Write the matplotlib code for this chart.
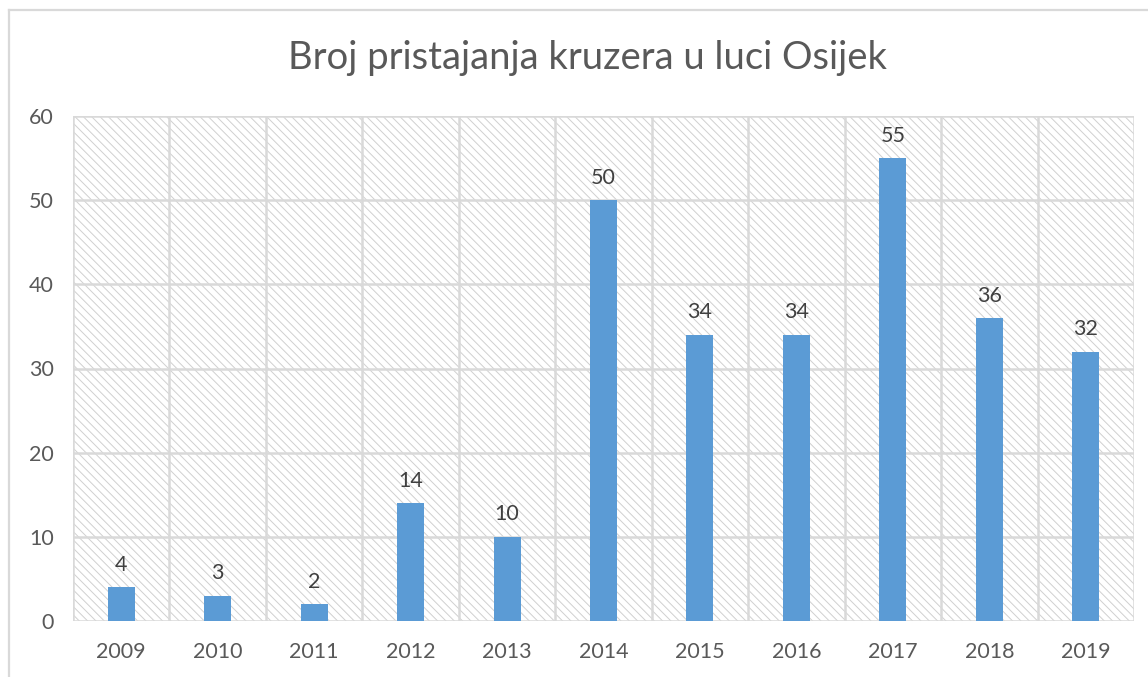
import matplotlib
matplotlib.use("Agg")
import matplotlib.pyplot as plt
from matplotlib.patches import Rectangle
from matplotlib.lines import Line2D

years = ["2009", "2010", "2011", "2012", "2013", "2014", "2015", "2016", "2017", "2018", "2019"]
values = [4, 3, 2, 14, 10, 50, 34, 34, 55, 36, 32]
title = "Broj pristajanja kruzera u luci Osijek"

plt.rcParams['font.family'] = ['Lato', 'DejaVu Sans']
plt.rcParams['hatch.linewidth'] = 0.7

W, H = 1148, 677
fig = plt.figure(figsize=(W / 100, H / 100), dpi=100)
fig.patch.set_facecolor("white")

# outer chart border (top and left visible)
fig.add_artist(Line2D([9 / W, 1.05], [1 - 10 / H, 1 - 10 / H], transform=fig.transFigure,
                      color="#d9d9d9", lw=1.6))
fig.add_artist(Line2D([9 / W, 9 / W], [-0.05, 1 - 10 / H], transform=fig.transFigure,
                      color="#d9d9d9", lw=1.6))

left, right, top, bottom = 73, 1134, 116, 621
ax = fig.add_axes([left / W, 1 - bottom / H, (right - left) / W, (bottom - top) / H])
ax.set_facecolor("white")

bg = Rectangle((0, 0), 1, 1, transform=ax.transAxes, facecolor="white",
               edgecolor="#d0d0d0", hatch="\\\\\\\\", lw=0, zorder=0)
ax.add_patch(bg)

x = list(range(len(years)))
ax.bar(x, values, width=0.28, color="#5B9BD5", zorder=3)

ax.set_xlim(-0.5, len(years) - 0.5)
ax.set_ylim(0, 60)
ax.set_yticks(range(0, 61, 10))
ax.set_xticks(x)
ax.set_xticklabels(years)

for i in range(len(years) + 1):
    ax.axvline(i - 0.5, color="#d9d9d9", lw=1.8, zorder=1)
for yv in range(0, 61, 10):
    ax.axhline(yv, color="#d9d9d9", lw=1.8, zorder=1)

for s in ax.spines.values():
    s.set_visible(False)

ax.tick_params(axis="both", length=0, labelsize=15.5, colors="#595959")
ax.tick_params(axis="x", pad=15)
ax.tick_params(axis="y", pad=14)

for xi, v in zip(x, values):
    ax.annotate(str(v), (xi, v), xytext=(0, 9), textcoords="offset points",
                ha="center", va="bottom", fontsize=15.5, color="#404040", zorder=4)

fig.text(587 / W, 1 - 58 / H, title, ha="center", va="center", fontsize=27.5, color="#595959")

fig.savefig("out.png", dpi=100, facecolor="white")
